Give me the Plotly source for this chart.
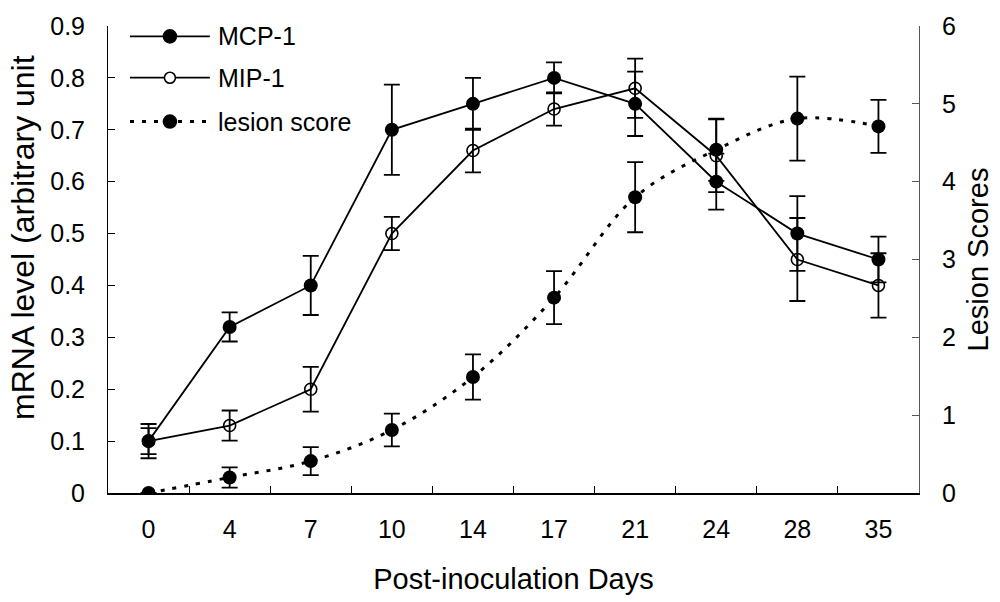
import plotly.graph_objects as go

days = ["0", "4", "7", "10", "14", "17", "21", "24", "28", "35"]
mcp1 = [0.10, 0.32, 0.40, 0.70, 0.75, 0.80, 0.75, 0.60, 0.50, 0.45]
mcp1_err = [0.033, 0.028, 0.057, 0.087, 0.050, 0.030, 0.062, 0.054, 0.072, 0.044]
mip1 = [0.10, 0.13, 0.20, 0.50, 0.66, 0.74, 0.78, 0.65, 0.45, 0.40]
mip1_err = [0.025, 0.029, 0.043, 0.032, 0.042, 0.032, 0.057, 0.070, 0.080, 0.062]
lesion = [0.0, 0.20, 0.41, 0.81, 1.49, 2.51, 3.80, 4.41, 4.81, 4.71]
lesion_err = [0.0, 0.13, 0.18, 0.21, 0.29, 0.34, 0.45, 0.40, 0.54, 0.34]

legend_labels = ["MCP-1", "MIP-1", "lesion score"]

FONT = "Liberation Sans, Arial, sans-serif"
W, H = 1000, 602
ML, MR, MT, MB = 108, 80, 21, 107
PW, PH = W - ML - MR, H - MT - MB

err_style = dict(type="data", color="black", thickness=1.8, width=8)

fig = go.Figure()
fig.add_trace(go.Scatter(
    x=days, y=lesion, name=legend_labels[2], yaxis="y2", mode="lines+markers",
    line=dict(color="black", width=3, dash="4px,8px", shape="spline", smoothing=1),
    marker=dict(symbol="circle", size=14, color="black"),
    error_y=dict(array=lesion_err, **err_style), showlegend=False))
fig.add_trace(go.Scatter(
    x=days, y=mip1, name=legend_labels[1], mode="lines+markers",
    line=dict(color="black", width=1.8),
    marker=dict(symbol="circle-open", size=12, color="black", line=dict(width=1.6)),
    error_y=dict(array=mip1_err, **err_style), showlegend=False))
fig.add_trace(go.Scatter(
    x=days, y=mcp1, name=legend_labels[0], mode="lines+markers",
    line=dict(color="black", width=1.8),
    marker=dict(symbol="circle", size=14, color="black"),
    error_y=dict(array=mcp1_err, **err_style), showlegend=False))


def px_x(p):
    return (p - ML) / PW


def px_y(p):
    return (H - MB - p) / PH


# custom legend (decoration, in paper coordinates)
shapes = []
annotations = []
rows = [31.5, 73.5, 118]
styles = [("solid", 1.8, True, 13), ("solid", 1.8, False, 11), ("4px,8px", 3, True, 13)]
for label, ry, (dash, lw, filled, ms) in zip(legend_labels, rows, styles):
    shapes.append(dict(type="line", xref="paper", yref="paper",
                       x0=px_x(130), x1=px_x(210), y0=px_y(ry), y1=px_y(ry),
                       line=dict(color="black", width=lw, dash=dash)))
    shapes.append(dict(type="circle", xref="paper", yref="paper",
                       xsizemode="pixel", ysizemode="pixel",
                       xanchor=px_x(170), yanchor=px_y(ry),
                       x0=-ms / 2, x1=ms / 2, y0=-ms / 2, y1=ms / 2,
                       fillcolor="black" if filled else "white",
                       line=dict(color="black", width=1.6)))
    annotations.append(dict(text=label, xref="paper", yref="paper",
                            x=px_x(216), y=px_y(ry), xanchor="left", yanchor="middle",
                            showarrow=False, font=dict(family=FONT, size=25, color="black")))

annotations.append(dict(text="mRNA level (arbitrary unit", xref="paper", yref="paper",
                        x=px_x(23), y=px_y(236), xanchor="center", yanchor="middle",
                        textangle=-90, showarrow=False,
                        font=dict(family=FONT, size=32, color="black")))

fig.update_layout(
    width=W, height=H,
    margin=dict(l=ML, r=MR, t=MT, b=MB, pad=0),
    paper_bgcolor="white", plot_bgcolor="white",
    font=dict(family=FONT, size=25, color="black"),
    showlegend=False,
    shapes=shapes,
    annotations=annotations,
    xaxis=dict(
        type="category", range=[-0.5, 9.5],
        showline=True, linecolor="black", linewidth=1.5,
        ticks="inside", tickson="boundaries", ticklen=7, tickcolor="black", tickwidth=1,
        showgrid=False, zeroline=False,
        tickfont=dict(size=25), ticklabelstandoff=13,
        title=dict(text="Post-inoculation Days", font=dict(size=29), standoff=27),
    ),
    yaxis=dict(
        range=[0, 0.9], dtick=0.1, tickformat="~g",
        showline=True, linecolor="black", linewidth=1,
        ticks="inside", ticklen=7, tickcolor="black",
        showgrid=False, zeroline=False,
        tickfont=dict(size=25), ticklabelstandoff=17,
    ),
    yaxis2=dict(
        range=[0, 6], dtick=1, overlaying="y", side="right",
        showline=True, linecolor="#555555", linewidth=1,
        ticks="inside", ticklen=7, tickcolor="#555555",
        showgrid=False, zeroline=False,
        tickfont=dict(size=25), ticklabelstandoff=17,
        title=dict(text="Lesion Scores", font=dict(size=29), standoff=12),
    ),
)

fig.write_html("out.html", config={"displayModeBar": False},
               post_script="document.body.style.margin='0';")
